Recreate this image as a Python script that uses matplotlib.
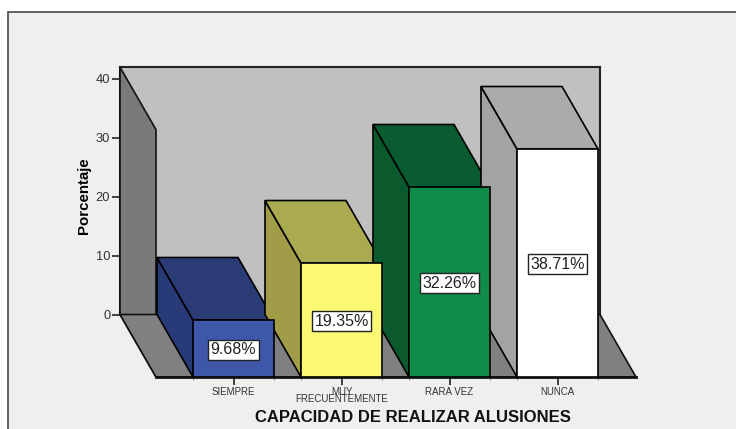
import matplotlib
matplotlib.use('Agg')
import matplotlib.pyplot as plt
from matplotlib.patches import Polygon, Rectangle

plt.rcParams['font.family'] = ['Liberation Sans', 'DejaVu Sans']

# datos
categorias = ['SIEMPRE', 'MUY\nFRECUENTEMENTE', 'RARA VEZ', 'NUNCA']
porcentajes = [9.68, 19.35, 32.26, 38.71]
etiquetas = ['9.68%', '19.35%', '32.26%', '38.71%']
marcas_y = [0, 10, 20, 30, 40]

# colores: frente, lado, tapa
frente = ['#3f57a8', '#fbf873', '#0f8c4a', '#ffffff']
lado = ['#283a78', '#a09c48', '#0a5a2e', '#a3a3a3']
tapa = ['#2a3b75', '#aaaa50', '#0a5c30', '#ababab']

W, H = 736, 429
fig = plt.figure(figsize=(W / 100, H / 100), dpi=100, facecolor='white')


def caja(x0, y0, x1, y1):
    # pixeles de la imagen (y hacia abajo) a fraccion de figura
    return [x0 / W, 1 - y1 / H, (x1 - x0) / W, (y1 - y0) / H]


# fondo del grafico
fig.add_artist(Rectangle((8 / W, -0.01), 1, 1.01 - 12 / H, transform=fig.transFigure,
                         facecolor='#efefef', edgecolor='#555555', linewidth=1.3, zorder=-1))

ymax = 42.0
px_y = 5.89
alto = ymax * px_y

# plano del fondo: lleva el eje y
fondo = fig.add_axes(caja(120, 314.5 - alto, 600, 314.5), facecolor='#c0c0c0')
fondo.set_xlim(0, 1)
fondo.set_ylim(0, ymax)
fondo.set_xticks([])
fondo.set_yticks(marcas_y)
fondo.tick_params(axis='y', length=6, width=1.2, color='#222222', labelcolor='#333333',
                  labelsize=9.3, pad=1)
fondo.spines['bottom'].set_visible(False)
for s in ['top', 'left', 'right']:
    fondo.spines[s].set_linewidth(1.5)
    fondo.spines[s].set_color('#222222')
fondo.set_ylabel('Porcentaje', fontsize=10.8, fontweight='bold', color='black')
fondo.yaxis.set_label_coords(-0.06, 0.479)

# plano del frente: lleva el eje x
ax = fig.add_axes(caja(156, 377 - alto, 636, 377))
ax.patch.set_alpha(0)
ax.set_xlim(-77.5 / 108, 3 + 78.5 / 108)
ax.set_ylim(0, ymax)
ax.set_yticks([])
for s in ['top', 'left', 'right']:
    ax.spines[s].set_visible(False)
ax.spines['bottom'].set_linewidth(2)
ax.spines['bottom'].set_color('#111111')

ancho = 0.75
dx = -36 / 108
dy = 62.5 / px_y
xi, xd = ax.get_xlim()

# pared izquierda y piso
ax.add_patch(Polygon([(xi, 0), (xi, ymax), (xi + dx, ymax + dy), (xi + dx, dy)], closed=True,
                     facecolor='#7a7a7a', edgecolor='#111111', linewidth=1.2, clip_on=False))
ax.add_patch(Polygon([(xi, 0), (xd, 0), (xd + dx, dy), (xi + dx, dy)], closed=True,
                     facecolor='#808080', edgecolor='#111111', linewidth=1.2, clip_on=False))

# barras 3d
for i, v in enumerate(porcentajes):
    x0, x1 = i - ancho / 2, i + ancho / 2
    ax.add_patch(Polygon([(x0, 0), (x0, v), (x0 + dx, v + dy), (x0 + dx, dy)], closed=True,
                         facecolor=lado[i], edgecolor='black', linewidth=1.2, clip_on=False, zorder=3))
    ax.add_patch(Polygon([(x0, v), (x1, v), (x1 + dx, v + dy), (x0 + dx, v + dy)], closed=True,
                         facecolor=tapa[i], edgecolor='black', linewidth=1.2, clip_on=False, zorder=3))
    ax.bar(i, v, width=ancho, color=frente[i], edgecolor='black', linewidth=1.2, zorder=4)
    ax.annotate(etiquetas[i], (i, v / 2), xytext=(0, -1), textcoords='offset points',
                ha='center', va='center', fontsize=11.5, color='#222222', zorder=5,
                bbox=dict(boxstyle='square,pad=0.16', facecolor='white', edgecolor='#222222', linewidth=1))

ax.set_xticks(range(4))
ax.set_xticklabels(categorias, fontsize=7, color='#333333', linespacing=0.65)
ax.set_xticks([p for i in range(4) for p in (i - ancho / 2, i + ancho / 2)], minor=True)
ax.tick_params(axis='x', which='major', length=5.5, width=1.2, color='#222222', pad=1.5)
ax.tick_params(axis='x', which='minor', length=2, width=0.7, color='#888888')

fig.text(413 / W, 1 - 417 / H, 'CAPACIDAD DE REALIZAR ALUSIONES', ha='center', va='center',
         fontsize=12, fontweight='bold', color='#111111')

fig.savefig('out.png', dpi=100)
